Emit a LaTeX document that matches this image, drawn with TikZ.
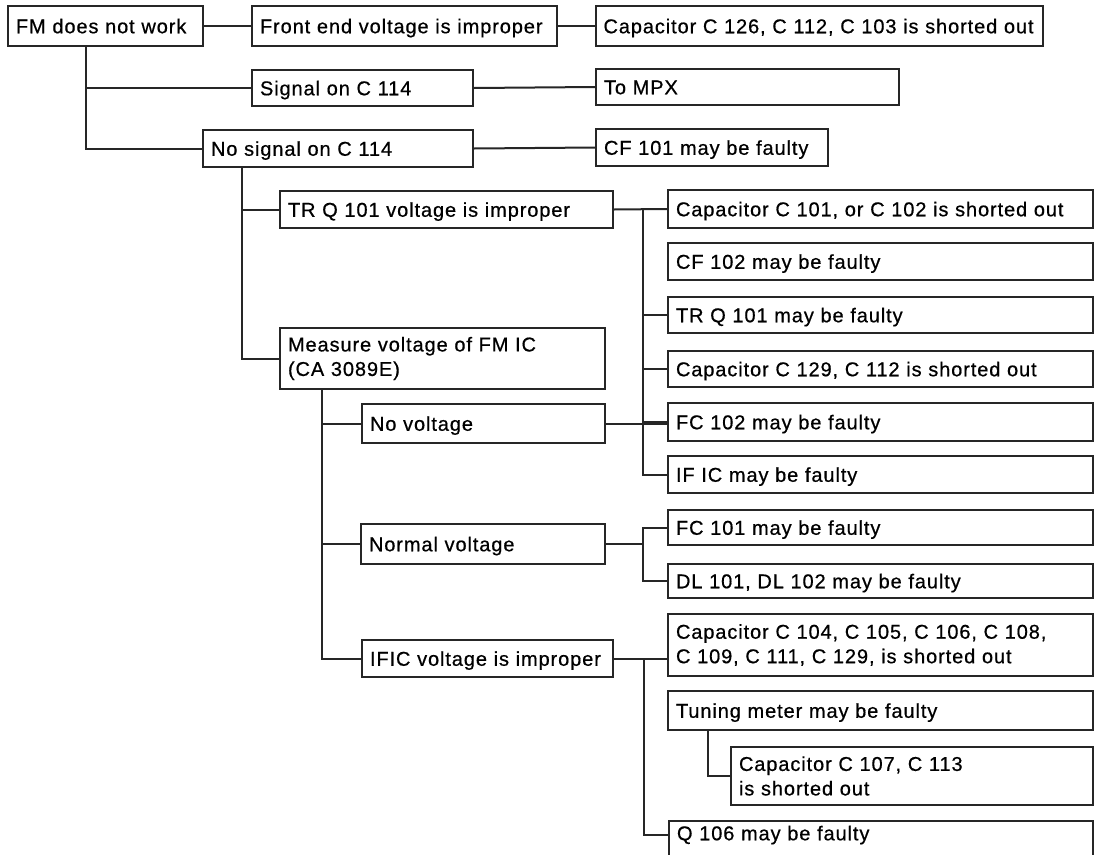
\documentclass[tikz,border=0pt]{standalone}
\usepackage{fontspec}
\setmainfont{Liberation Sans}[LetterSpace=4.5, FakeBold=0.6]
\usepackage{tikz}
\usetikzlibrary{calc}

\begin{document}
\begin{tikzpicture}[
  x=1pt, y=-1pt,
  box/.style={draw=black!85, line width=2pt, anchor=north west,
              inner xsep=8pt, inner ysep=0pt, align=left,
              text height=14.5pt, text depth=0pt,
              font=\fontsize{20}{24.5}\selectfont},
  twobox/.style={box, text height=, text depth=},
  link/.style={draw=black!85, line width=2pt}
]
\clip (0,0) rectangle (1099,854);
\fill[white] (0,0) rectangle (1099,854);

% first level
\node[box, text width=179pt, minimum height=40pt] (fm) at (7,5) {FM does not work};
\node[box, text width=289pt, minimum height=40pt] (front) at (251,5) {Front end voltage is improper};
\node[box, text width=440pt, inner xsep=3.5pt, minimum height=40pt] (cap126) at (595,5) {\hspace{4pt}Capacitor C 126, C 112, C 103 is shorted out};
\node[box, text width=205pt, minimum height=36pt] (sig) at (251,69) {Signal on C 114};
\node[box, text width=287pt, minimum height=36pt] (mpx) at (595,68) {To MPX};
\node[box, text width=254pt, minimum height=37pt] (nosig) at (202,129) {No signal on C 114};
\node[box, text width=216pt, minimum height=37pt] (cf101) at (595,128) {CF 101 may be faulty};

% no signal branch
\node[box, text width=317pt, minimum height=37pt] (trq) at (279,190) {TR Q 101 voltage is improper};
\node[twobox, text width=309pt, minimum height=61pt] (measure) at (279,327) {Measure voltage of FM IC\\(CA 3089E)};
\node[box, text width=227pt, minimum height=39pt] (novolt) at (361,403) {No voltage};
\node[box, text width=228pt, minimum height=40pt] (normal) at (360,523) {Normal voltage};
\node[box, text width=235pt, minimum height=37pt] (ific) at (361,639) {IFIC voltage is improper};

% right column
\node[box, text width=409pt, minimum height=38pt] (c101) at (667,189) {Capacitor C 101, or C 102 is shorted out};
\node[box, text width=409pt, minimum height=37pt] (cf102) at (667,242) {CF 102 may be faulty};
\node[box, text width=409pt, minimum height=36pt] (trqf) at (667,296) {TR Q 101 may be faulty};
\node[box, text width=409pt, minimum height=36pt] (c129) at (667,350) {Capacitor C 129, C 112 is shorted out};
\node[box, text width=409pt, minimum height=38pt] (fc102) at (667,402) {FC 102 may be faulty};
\node[box, text width=409pt, minimum height=37pt] (iffault) at (667,455) {IF IC may be faulty};
\node[box, text width=409pt, minimum height=35pt] (fc101) at (667,509) {FC 101 may be faulty};
\node[box, text width=409pt, minimum height=34pt] (dl) at (667,563) {DL 101, DL 102 may be faulty};
\node[twobox, text width=409pt, minimum height=62pt] (c104) at (667,613) {Capacitor C 104, C 105, C 106, C 108,\\C 109, C 111, C 129, is shorted out};
\node[box, text width=409pt, minimum height=39pt] (tuning) at (667,690) {Tuning meter may be faulty};
\node[twobox, text width=346pt, minimum height=58pt] (c107) at (730,746) {Capacitor C 107, C 113\\is shorted out};
\node[box, text width=408pt, minimum height=37pt, text depth=13pt] (q106) at (668,820) {Q 106 may be faulty};

\coordinate (nbus) at ($(fc101.west)+(-24,0)$);
\coordinate (ibus) at ($(c104.west)+(-23,0)$);

% connectors
\draw[link] (fm.east) -- (front.west);
\draw[link] (front.east) -- (cap126.west);
\draw[link] (fm.south west) ++(79,0) |- (sig.west);
\draw[link] (fm.south west) ++(79,0) |- (nosig.west);
\draw[link] (sig.east) -- (mpx.west);
\draw[link] (nosig.east) -- (cf101.west);

\draw[link] (nosig.south west) ++(40,0) |- (trq.west);
\draw[link] (nosig.south west) ++(40,0) |- (measure.west);
\draw[link] (trq.east) -- (c101.west);
\draw[link] (c101.west) ++(-24,0) |- (trqf.west);
\draw[link] (c101.west) ++(-24,0) |- (c129.west);
\draw[link] (c101.west) ++(-24,0) |- (fc102.west);
\draw[link] (c101.west) ++(-24,0) |- (iffault.west);

\draw[link] (measure.south west) ++(43,0) |- (novolt.west);
\draw[link] (measure.south west) ++(43,0) |- (normal.west);
\draw[link] (measure.south west) ++(43,0) |- (ific.west);
\draw[link] (novolt.east) -- (novolt.east -| fc102.west);

\draw[link] (normal.east) -- (normal.east -| nbus);
\draw[link] (fc101.west) -| (nbus) |- (dl.west);

\draw[link] (ific.east) -- (ific.east -| c104.west);
\draw[link] (ific.east -| ibus) |- ($(q106.west)+(0,-5)$);
\draw[link] (tuning.south west) ++(41,0) |- (c107.west);
\end{tikzpicture}
\end{document}
